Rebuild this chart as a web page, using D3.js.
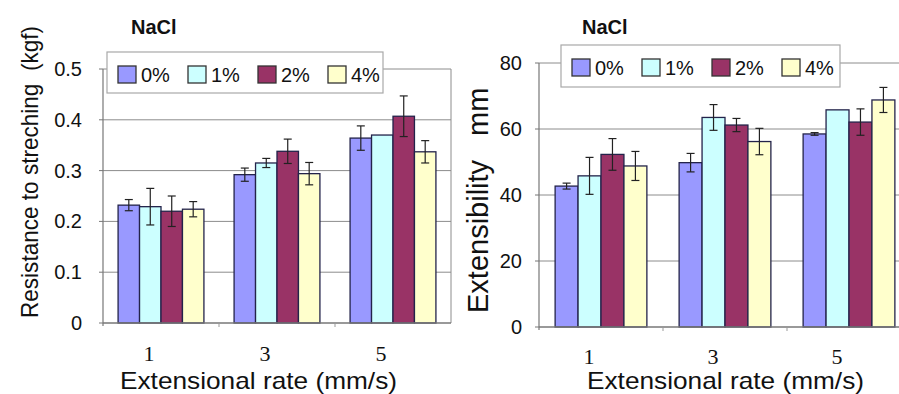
<!DOCTYPE html>
<html>
<head>
<meta charset="utf-8">
<script src="https://cdn.jsdelivr.net/npm/d3@7"></script>
<style>
  html, body { margin: 0; padding: 0; background: #fff; }
  svg { display: block; }
  text { font-family: "Liberation Sans", Arial, sans-serif; fill: #111; }
</style>
</head>
<body>
<svg id="chart" width="899" height="394"></svg>
<script>
// Extension rates (mm/s) and NaCl concentrations
const rates = ["1", "3", "5"];
const salts = ["0%", "1%", "2%", "4%"];
const saltColors = ["#9999ff", "#ccffff", "#993366", "#ffffcc"];

// Resistance to stretching (kgf): one row per rate, one column per NaCl level
const resistance = [
  [0.232, 0.229, 0.220, 0.224],
  [0.292, 0.315, 0.338, 0.294],
  [0.364, 0.370, 0.407, 0.337]
];
const resistanceErr = [
  [0.011, 0.036, 0.030, 0.015],
  [0.013, 0.009, 0.024, 0.022],
  [0.024, 0.000, 0.040, 0.022]
];
const resistanceTicks = [0, 0.1, 0.2, 0.3, 0.4, 0.5];
const resistanceTickLabels = ["0", "0.1", "0.2", "0.3", "0.4", "0.5"];

// Extensibility (mm)
const extensibility = [
  [42.7, 45.8, 52.3, 48.8],
  [49.8, 63.5, 61.2, 56.2],
  [58.5, 65.8, 62.1, 68.8]
];
const extensibilityErr = [
  [0.9, 5.6, 4.8, 4.4],
  [2.8, 3.9, 2.0, 4.0],
  [0.4, 0.0, 4.0, 3.8]
];
const extensibilityTicks = [0, 20, 40, 60, 80];
const extensibilityTickLabels = ["0", "20", "40", "60", "80"];

const svg = d3.select("#chart");

function drawPanel(cfg) {
  const g = svg.append("g");
  const x = d3.scaleBand().domain(rates).range([cfg.left, cfg.right])
    .paddingInner(0.26).paddingOuter(0.13);
  const xs = d3.scaleBand().domain(salts).range([0, x.bandwidth()]);
  const y = d3.scaleLinear().domain(cfg.domain).range([cfg.bottom, cfg.top]);
  const color = d3.scaleOrdinal().domain(salts).range(saltColors);

  // gridlines
  g.append("g").selectAll("line").data(cfg.ticks.filter(t => t > 0)).join("line")
    .attr("x1", cfg.left).attr("x2", Math.min(cfg.right, 899))
    .attr("y1", d => y(d)).attr("y2", d => y(d))
    .attr("stroke", "#8c8c8c").attr("stroke-width", 1);

  // frame: left axis, right border, baseline
  g.append("line").attr("x1", cfg.left).attr("x2", cfg.left)
    .attr("y1", y(cfg.domain[1])).attr("y2", y(0) + 3)
    .attr("stroke", "#777").attr("stroke-width", 1.2);
  if (cfg.right < 899) {
    g.append("line").attr("x1", cfg.right).attr("x2", cfg.right)
      .attr("y1", y(cfg.domain[1])).attr("y2", y(0))
      .attr("stroke", "#8c8c8c").attr("stroke-width", 1);
  }
  g.append("g").selectAll("line").data(cfg.ticks).join("line")
    .attr("x1", cfg.left - 4).attr("x2", cfg.left)
    .attr("y1", d => y(d)).attr("y2", d => y(d))
    .attr("stroke", "#777");

  // bars
  const groups = g.append("g").selectAll("g").data(rates).join("g")
    .attr("transform", d => `translate(${x(d)},0)`);
  const rows = (r, i) => salts.map((s, j) => ({ s, v: cfg.values[i][j], e: cfg.errors[i][j] }));
  groups.selectAll("rect").data(rows)
    .join("rect")
    .attr("x", d => xs(d.s)).attr("width", xs.bandwidth())
    .attr("y", d => y(d.v)).attr("height", d => y(0) - y(d.v))
    .attr("fill", d => color(d.s))
    .attr("stroke", "#23234a").attr("stroke-width", 1.3);

  // error bars
  const eb = groups.selectAll("g.err").data((r, i) => rows(r, i).filter(d => d.e > 0))
    .join("g").attr("class", "err")
    .attr("stroke", "#222").attr("stroke-width", 1.2);
  const cx = d => xs(d.s) + xs.bandwidth() / 2;
  eb.append("line")
    .attr("x1", cx).attr("x2", cx)
    .attr("y1", d => y(d.v + d.e)).attr("y2", d => y(d.v - d.e));
  eb.append("line")
    .attr("x1", d => cx(d) - 4).attr("x2", d => cx(d) + 4)
    .attr("y1", d => y(d.v + d.e)).attr("y2", d => y(d.v + d.e));
  eb.append("line")
    .attr("x1", d => cx(d) - 4).attr("x2", d => cx(d) + 4)
    .attr("y1", d => y(d.v - d.e)).attr("y2", d => y(d.v - d.e));

  // baseline drawn over the bars
  g.append("line").attr("x1", cfg.left).attr("x2", Math.min(cfg.right, 899))
    .attr("y1", y(0)).attr("y2", y(0))
    .attr("stroke", "#777").attr("stroke-width", 1.4);
  // small ticks between groups
  g.append("g").selectAll("line").data(rates.slice(1)).join("line")
    .attr("x1", d => x(d) - x.step() * x.paddingInner() / 2)
    .attr("x2", d => x(d) - x.step() * x.paddingInner() / 2)
    .attr("y1", y(0)).attr("y2", y(0) + 4)
    .attr("stroke", "#999");

  // y tick labels
  g.append("g").selectAll("text").data(cfg.ticks).join("text")
    .attr("x", cfg.left - cfg.labelGap).attr("y", d => y(d) + 7)
    .attr("text-anchor", "end").attr("font-size", 20)
    .text((d, i) => cfg.tickLabels[i]);

  // x tick labels (serif digits)
  g.append("g").selectAll("text").data(rates).join("text")
    .attr("x", d => x(d) + x.bandwidth() / 2 - 12).attr("y", cfg.xLabelY)
    .attr("text-anchor", "middle").attr("font-size", 22)
    .style("font-family", "'Liberation Serif', 'Times New Roman', serif")
    .text(d => d);

  // x axis title
  g.append("text").attr("x", cfg.xTitleX).attr("y", 389)
    .attr("font-size", 24).attr("textLength", 277).attr("lengthAdjust", "spacingAndGlyphs")
    .text("Extensional rate (mm/s)");

  // legend
  const lg = g.append("g");
  lg.append("rect").attr("x", cfg.legend.x).attr("y", cfg.legend.y)
    .attr("width", cfg.legend.w).attr("height", cfg.legend.h)
    .attr("fill", "#fff").attr("stroke", "#a8a8a8").attr("stroke-width", 1.2);
  const items = lg.selectAll("g").data(salts).join("g")
    .attr("transform", (d, i) => `translate(${cfg.legend.x + 11 + i * 70},${cfg.legend.y + 14})`);
  items.append("rect").attr("width", 18).attr("height", 17)
    .attr("fill", d => color(d)).attr("stroke", "#333").attr("stroke-width", 1.3);
  items.append("text").attr("x", 23).attr("y", 16).attr("font-size", 20).text(d => d);

  // panel title
  g.append("text").attr("x", cfg.titleX).attr("y", 34)
    .attr("font-size", 20).attr("font-weight", "bold").text("NaCl");
}

drawPanel({
  left: 103, right: 451, top: 69, bottom: 323,
  domain: [0, 0.5], ticks: resistanceTicks, tickLabels: resistanceTickLabels,
  values: resistance, errors: resistanceErr,
  labelGap: 21, xLabelY: 361, xTitleX: 120, titleX: 131,
  legend: { x: 107, y: 52, w: 276, h: 41 }
});

drawPanel({
  left: 539, right: 911, top: 63, bottom: 327,
  domain: [0, 80], ticks: extensibilityTicks, tickLabels: extensibilityTickLabels,
  values: extensibility, errors: extensibilityErr,
  labelGap: 17, xLabelY: 364, xTitleX: 587, titleX: 582,
  legend: { x: 561, y: 45, w: 279, h: 42 }
});

// y axis titles
svg.append("text")
  .attr("transform", "translate(38,318) rotate(-90)")
  .attr("font-size", 24).attr("textLength", 292).attr("lengthAdjust", "spacingAndGlyphs")
  .style("white-space", "pre")
  .text("Resistance to streching  (kgf)");

const yt = svg.append("text")
  .attr("transform", "translate(488,313) rotate(-90)")
  .attr("font-size", 29);
yt.append("tspan").text("Extensibility");
yt.append("tspan").attr("dx", 24).text("mm");
</script>
</body>
</html>
